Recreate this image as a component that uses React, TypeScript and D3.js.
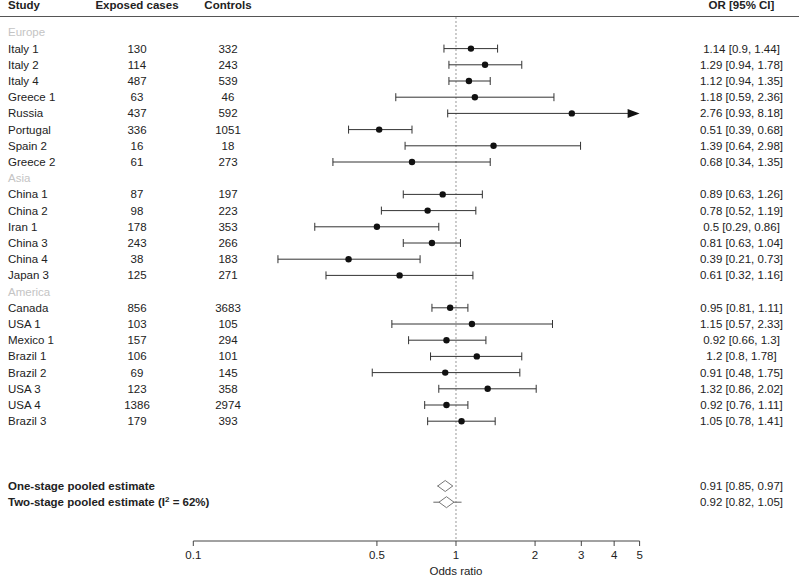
import React from "react";
import * as d3 from "d3";

type Row = { kind: "group" | "study"; label: string; cases?: number; controls?: number; or?: number; lo?: number; hi?: number };

const groups = ["Europe", "Asia", "America"];
const studyNames = [
  ["Italy 1", "Italy 2", "Italy 4", "Greece 1", "Russia", "Portugal", "Spain 2", "Greece 2"],
  ["China 1", "China 2", "Iran 1", "China 3", "China 4", "Japan 3"],
  ["Canada", "USA 1", "Mexico 1", "Brazil 1", "Brazil 2", "USA 3", "USA 4", "Brazil 3"],
];
const casesVals = [
  [130, 114, 487, 63, 437, 336, 16, 61],
  [87, 98, 178, 243, 38, 125],
  [856, 103, 157, 106, 69, 123, 1386, 179],
];
const controlsVals = [
  [332, 243, 539, 46, 592, 1051, 18, 273],
  [197, 223, 353, 266, 183, 271],
  [3683, 105, 294, 101, 145, 358, 2974, 393],
];
const orVals = [
  [1.14, 1.29, 1.12, 1.18, 2.76, 0.51, 1.39, 0.68],
  [0.89, 0.78, 0.5, 0.81, 0.39, 0.61],
  [0.95, 1.15, 0.92, 1.2, 0.91, 1.32, 0.92, 1.05],
];
const loVals = [
  [0.9, 0.94, 0.94, 0.59, 0.93, 0.39, 0.64, 0.34],
  [0.63, 0.52, 0.29, 0.63, 0.21, 0.32],
  [0.81, 0.57, 0.66, 0.8, 0.48, 0.86, 0.76, 0.78],
];
const hiVals = [
  [1.44, 1.78, 1.35, 2.36, 8.18, 0.68, 2.98, 1.35],
  [1.26, 1.19, 0.86, 1.04, 0.73, 1.16],
  [1.11, 2.33, 1.3, 1.78, 1.75, 2.02, 1.11, 1.41],
];

const pooledLabels = ["One-stage pooled estimate", "Two-stage pooled estimate"];
const pooledOr = [0.91, 0.92];
const pooledLo = [0.85, 0.82];
const pooledHi = [0.97, 1.05];

const axisTicks = [0.1, 0.5, 1, 2, 3, 4, 5];
const headers = ["Study", "Exposed cases", "Controls", "OR [95% CI]"];

const W = 799;
const H = 578;
const FONT = "'Liberation Sans', Arial, Helvetica, sans-serif";
const FS = 11.5;

export default function App() {
  const rows: Row[] = [];
  groups.forEach((g, gi) => {
    rows.push({ kind: "group", label: g });
    studyNames[gi].forEach((s, si) => {
      rows.push({
        kind: "study",
        label: s,
        cases: casesVals[gi][si],
        controls: controlsVals[gi][si],
        or: orVals[gi][si],
        lo: loVals[gi][si],
        hi: hiVals[gi][si],
      });
    });
  });

  const x = d3.scaleLog().domain([0.1, 5]).range([193.3, 639.6]);
  const y0 = 32.4;
  const dy = 16.2;
  const rowY = (i: number) => y0 + i * dy;
  const pooledStart = rows.length + 3;

  const axisY = 541;
  const colCases = 137;
  const colControls = 228;
  const colOR = 741.5;
  const lineColor = "#333";
  const cap = 4;
  const fmt = (v: number) => String(v);

  return (
    <svg width={W} height={H} style={{ position: "absolute", left: 0, top: 0, background: "#fff" }} fontFamily={FONT}>
      {/* header */}
      <g fontSize={FS} fontWeight="bold" fill="#222">
        <text x={8} y={9}>{headers[0]}</text>
        <text x={colCases} y={9} textAnchor="middle">{headers[1]}</text>
        <text x={colControls} y={9} textAnchor="middle">{headers[2]}</text>
        <text x={colOR} y={9} textAnchor="middle">{headers[3]}</text>
      </g>
      <line x1={0} x2={W} y1={16.5} y2={16.5} stroke="#555" strokeWidth={1} />

      {/* reference line at OR = 1 */}
      <line x1={x(1)} x2={x(1)} y1={17} y2={axisY} stroke="#999" strokeWidth={1} strokeDasharray="2,2" />

      {rows.map((r, i) => {
        const yy = rowY(i);
        if (r.kind === "group") {
          return (
            <text key={i} x={8} y={yy + 4} fontSize={FS} fill="#c4c4c4">{r.label}</text>
          );
        }
        const lo = r.lo!, hi = r.hi!, or = r.or!;
        const clipped = hi > 5;
        const xHi = clipped ? x(5) : x(hi);
        return (
          <g key={i}>
            <text x={8} y={yy + 4} fontSize={FS} fill="#222">{r.label}</text>
            <text x={colCases} y={yy + 4} fontSize={FS} fill="#222" textAnchor="middle">{r.cases}</text>
            <text x={colControls} y={yy + 4} fontSize={FS} fill="#222" textAnchor="middle">{r.controls}</text>
            <text x={colOR} y={yy + 4} fontSize={FS} fill="#222" textAnchor="middle">
              {`${fmt(or)} [${fmt(lo)}, ${fmt(hi)}]`}
            </text>
            <line x1={x(lo)} x2={clipped ? xHi - 10 : xHi} y1={yy} y2={yy} stroke={lineColor} strokeWidth={1} />
            <line x1={x(lo)} x2={x(lo)} y1={yy - cap} y2={yy + cap} stroke={lineColor} strokeWidth={1} />
            {clipped ? (
              <path d={`M${xHi - 12},${yy - 4.5} L${xHi},${yy} L${xHi - 12},${yy + 4.5} Z`} fill="#111" />
            ) : (
              <line x1={xHi} x2={xHi} y1={yy - cap} y2={yy + cap} stroke={lineColor} strokeWidth={1} />
            )}
            <circle cx={x(or)} cy={yy} r={3.2} fill="#111" />
          </g>
        );
      })}

      {/* pooled estimates */}
      {pooledLabels.map((lab, k) => {
        const yy = rowY(pooledStart + k);
        const cx = x(pooledOr[k]);
        const hw = 7.5;
        const hh = 5.5;
        return (
          <g key={"p" + k}>
            <text x={8} y={yy + 4} fontSize={FS} fontWeight="bold" fill="#222">
              {lab}
              {k === 1 ? (
                <>
                  {" (I"}
                  <tspan dy={-4} fontSize={8}>2</tspan>
                  <tspan dy={4}>{" = 62%)"}</tspan>
                </>
              ) : null}
            </text>
            <line x1={x(pooledLo[k])} x2={x(pooledHi[k])} y1={yy} y2={yy} stroke="#666" strokeWidth={1} />
            <path
              d={`M${cx - hw},${yy} L${cx},${yy - hh} L${cx + hw},${yy} L${cx},${yy + hh} Z`}
              fill="#fff"
              stroke="#777"
              strokeWidth={1}
            />
            <text x={colOR} y={yy + 4} fontSize={FS} fill="#222" textAnchor="middle">
              {`${fmt(pooledOr[k])} [${fmt(pooledLo[k])}, ${fmt(pooledHi[k])}]`}
            </text>
          </g>
        );
      })}

      {/* axis */}
      <g>
        <line x1={x(0.1)} x2={x(5)} y1={axisY} y2={axisY} stroke="#444" strokeWidth={1} />
        {axisTicks.map((t) => (
          <g key={t}>
            <line x1={x(t)} x2={x(t)} y1={axisY} y2={axisY + 5} stroke="#444" strokeWidth={1} />
            <text x={x(t)} y={axisY + 18} fontSize={FS} fill="#222" textAnchor="middle">{String(t)}</text>
          </g>
        ))}
        <text x={x(1)} y={axisY + 34} fontSize={FS} fill="#222" textAnchor="middle">Odds ratio</text>
      </g>
    </svg>
  );
}
